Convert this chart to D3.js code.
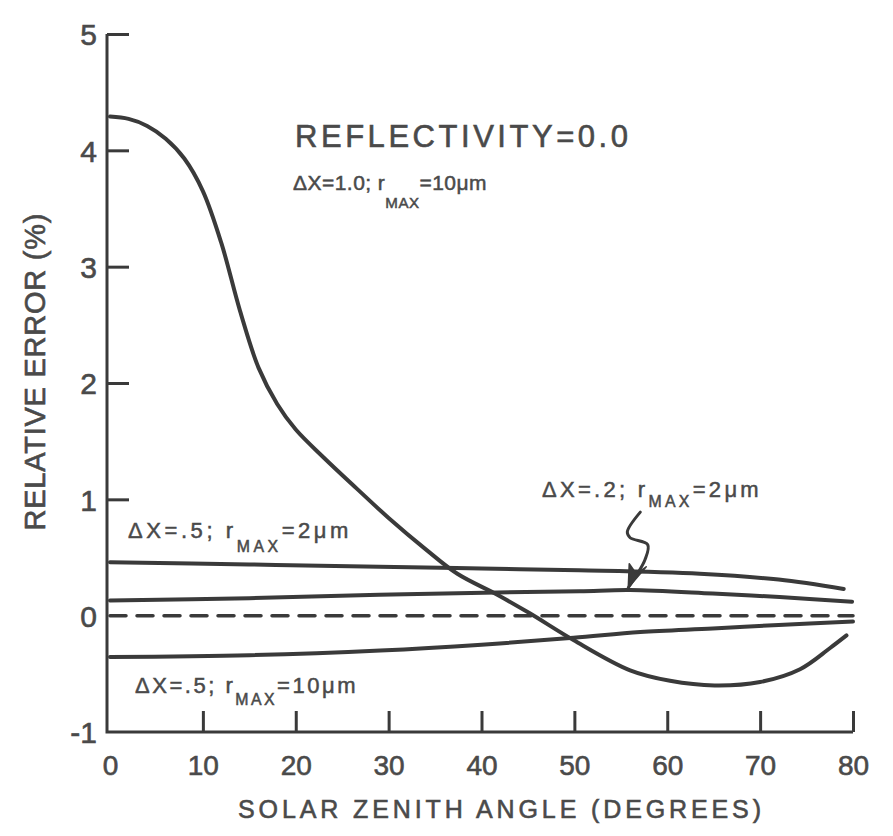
<!DOCTYPE html>
<html>
<head>
<meta charset="utf-8">
<script src="https://cdn.jsdelivr.net/npm/d3@7"></script>
<style>
  body { margin: 0; background: #fff; }
  svg { display: block; font-family: 'Liberation Sans', Arial, sans-serif; }
</style>
</head>
<body>
<div id="chart"></div>
<script>
// values: solar zenith angle (deg) vs relative error (%)
const xTicks = [0, 10, 20, 30, 40, 50, 60, 70, 80];
const yTicks = [-1, 0, 1, 2, 3, 4, 5];

// dX=1.0 ; rmax=10um
const angleA = [0, 2, 4, 6, 8, 10, 12, 14, 16, 18, 20, 23, 26.6, 30, 34, 37.4, 41.7, 45.2, 49.9, 56, 60.3, 65.1, 70, 74.3, 77.5, 79.3];
const errA   = [4.29, 4.27, 4.21, 4.1, 3.93, 3.65, 3.2, 2.62, 2.13, 1.82, 1.6, 1.36, 1.09, 0.84, 0.57, 0.36, 0.18, 0.02, -0.21, -0.47, -0.56, -0.6, -0.57, -0.46, -0.28, -0.17];

// dX=.5 ; rmax=2um
const angleB = [0, 15, 29, 40, 50.5, 63.5, 72, 79];
const errB   = [0.46, 0.44, 0.42, 0.405, 0.39, 0.36, 0.31, 0.23];

// dX=.2 ; rmax=2um
const angleC = [0, 15, 29, 41.7, 50.6, 56, 64.9, 72.1, 79.9];
const errC   = [0.13, 0.15, 0.18, 0.2, 0.21, 0.22, 0.19, 0.16, 0.12];

// zero reference (dashed)
const angleZ = [0, 80];
const errZ   = [0, 0];

// dX=.5 ; rmax=10um
const angleD = [0, 15, 29.1, 40, 49.9, 57.1, 64.9, 72, 80];
const errD   = [-0.355, -0.34, -0.3, -0.25, -0.19, -0.14, -0.11, -0.08, -0.05];

// arrow from the dX=.2 label down to its curve
const arrowAngle = [57.1, 55.7, 56.0, 57.9, 57.6, 56.7, 55.8];
const arrowErr   = [0.89, 0.72, 0.67, 0.61, 0.48, 0.35, 0.24];

const width = 893, height = 836;
const ink = '#3a3a3a', textInk = '#4a4a4a';

let svg = d3.select('#chart').append('svg')
    .attr('width', width)
    .attr('height', height);

svg.append('rect').attr('width', width).attr('height', height).attr('fill', '#fff');

let x = d3.scaleLinear().domain([0, 80]).range([110, 853]);
let y = d3.scaleLinear().domain([-1, 5]).range([732, 34]);
let axisX = x(0) - 3;

// X axis ticks + labels
let xAxis = svg.append('g')
    .attr('transform', 'translate(0,' + y(-1) + ')')
    .call(d3.axisBottom(x).tickValues(xTicks).tickSize(-21).tickSizeOuter(0).tickPadding(23).tickFormat(d => String(d)));
xAxis.select('.domain').remove();
xAxis.selectAll('.tick').filter(d => d === 0).select('line').remove();
xAxis.selectAll('.tick line').attr('stroke', ink).attr('stroke-width', 3);
xAxis.selectAll('.tick text').attr('fill', textInk).attr('font-size', 28)
    .attr('stroke', textInk).attr('stroke-width', 0.6);

// Y axis
let yAxis = svg.append('g')
    .attr('transform', 'translate(' + axisX + ',0)')
    .call(d3.axisLeft(y).tickValues(yTicks).tickSize(-22).tickSizeOuter(0).tickPadding(10).tickFormat(d => String(d)));
yAxis.select('.domain').remove();
yAxis.selectAll('.tick').filter(d => d <= 0).select('line').remove();
yAxis.selectAll('.tick line').attr('stroke', ink).attr('stroke-width', 3);
yAxis.selectAll('.tick text').attr('fill', textInk).attr('font-size', 30).attr('dy', '0.36em')
    .attr('stroke', textInk).attr('stroke-width', 0.6);

// axis lines
svg.append('path')
    .attr('d', 'M' + axisX + ',' + y(5) + 'V' + y(-1) + 'H' + x(80))
    .attr('fill', 'none')
    .attr('stroke', ink)
    .attr('stroke-width', 3);

let line = d3.line()
    .x(d => x(d[0]))
    .y(d => y(d[1]))
    .curve(d3.curveCatmullRom.alpha(0.5));

function series(angles, errs, dash) {
  svg.append('path')
      .datum(d3.zip(angles, errs))
      .attr('d', line)
      .attr('fill', 'none')
      .attr('stroke', ink)
      .attr('stroke-width', dash ? 3.5 : 4)
      .attr('stroke-linecap', 'round')
      .attr('stroke-dasharray', dash || null);
}

series(angleZ, errZ, '16,11');
series(angleB, errB);
series(angleC, errC);
series(angleD, errD);
series(angleA, errA);

// squiggly arrow
svg.append('path')
    .datum(d3.zip(arrowAngle, arrowErr))
    .attr('d', d3.line().x(d => x(d[0])).y(d => y(d[1])).curve(d3.curveCatmullRom))
    .attr('fill', 'none')
    .attr('stroke', ink)
    .attr('stroke-width', 3)
    .attr('stroke-linecap', 'round');
let tip = [arrowAngle[arrowAngle.length - 1], arrowErr[arrowErr.length - 1]];
svg.append('path')
    .attr('d', 'M' + x(tip[0]) + ',' + y(tip[1]) + 'L' + (x(tip[0]) + 1) + ',' + (y(tip[1]) - 24) + 'L' + (x(tip[0]) + 8) + ',' + (y(tip[1]) - 14) + 'L' + (x(tip[0]) + 18) + ',' + (y(tip[1]) - 21) + 'Z')
    .attr('fill', ink)
    .attr('stroke', ink)
    .attr('stroke-width', 1.5)
    .attr('stroke-linejoin', 'round');

// text helpers
function plain(txt, px, py, size, len) {
  return svg.append('text')
      .attr('x', px).attr('y', py)
      .attr('font-size', size)
      .attr('fill', textInk)
      .attr('stroke', textInk).attr('stroke-width', 0.6)
      .attr('textLength', len)
      .attr('lengthAdjust', 'spacing')
      .text(txt);
}

function rmaxLabel(head, tail, px, py, size, drop, target) {
  let t = svg.append('text')
      .attr('x', px).attr('y', py)
      .attr('font-size', size)
      .attr('fill', textInk)
      .attr('stroke', textInk).attr('stroke-width', 0.5);
  t.append('tspan').text(head);
  t.append('tspan').attr('dy', drop).attr('font-size', size * 0.72).text('MAX');
  t.append('tspan').attr('dy', -drop).text(tail);
  let n = (head + 'MAX' + tail).length;
  let len = t.node().getComputedTextLength();
  t.attr('letter-spacing', (target - len) / n);
}

plain('REFLECTIVITY=0.0', 295, 147, 31, 333);
rmaxLabel('\u0394X=1.0; r', '=10\u03bcm', 293, 190, 21, 18, 194);
rmaxLabel('\u0394X=.5; r', '=2\u03bcm', 128, 538, 22, 14, 224);
rmaxLabel('\u0394X=.2; r', '=2\u03bcm', 542, 497, 22, 10, 220);
rmaxLabel('\u0394X=.5; r', '=10\u03bcm', 135, 693, 22, 12, 223);

plain('SOLAR ZENITH ANGLE (DEGREES)', 238, 818, 25, 523);
svg.append('text')
    .attr('transform', 'translate(45,372) rotate(-90)')
    .attr('text-anchor', 'middle')
    .attr('font-size', 29)
    .attr('fill', textInk)
    .attr('stroke', textInk).attr('stroke-width', 0.6)
    .attr('textLength', 317)
    .attr('lengthAdjust', 'spacing')
    .text('RELATIVE ERROR (%)');
</script>
</body>
</html>
